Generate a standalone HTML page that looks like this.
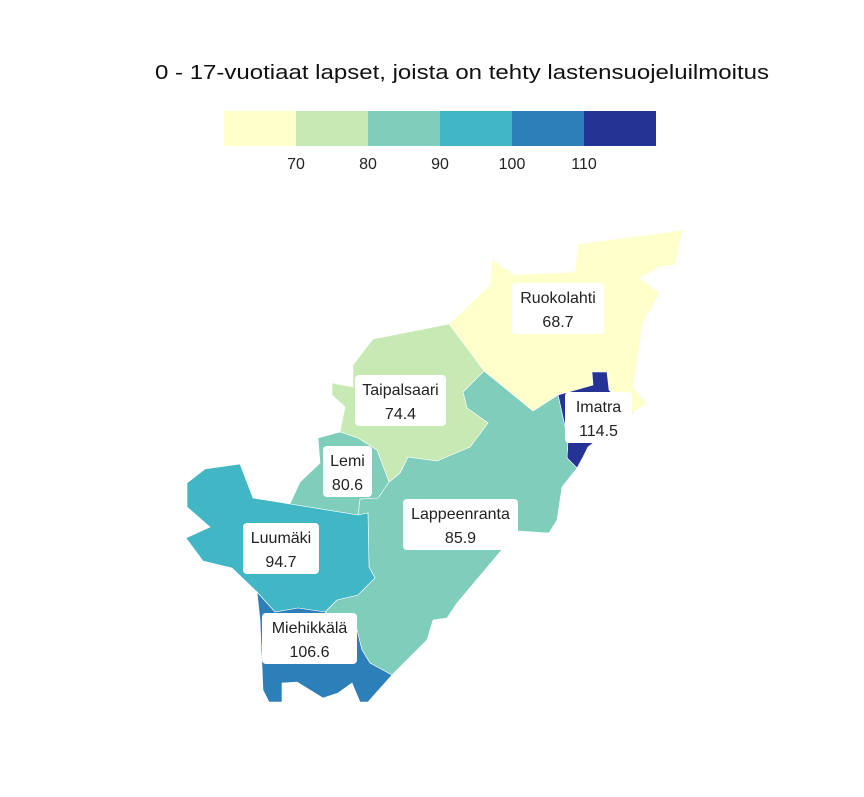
<!DOCTYPE html>
<html><head><meta charset="utf-8"><style>
body{margin:0;background:#fff;font-family:"Liberation Sans",sans-serif;}
svg text{font-family:"Liberation Sans",sans-serif;}
</style></head><body>
<svg width="864" height="792" viewBox="0 0 864 792">
<text x="462" y="79" text-anchor="middle" font-size="20" textLength="614" lengthAdjust="spacingAndGlyphs" fill="#111">0 - 17-vuotiaat lapset, joista on tehty lastensuojeluilmoitus</text>
<g id="legend"></g>
<g id="map"></g>
<g id="labels"></g>
</svg>
<script>
const regions=["Ruokolahti","Imatra","Lappeenranta","Taipalsaari","Lemi","Luumäki","Miehikkälä"];
const values=[68.7,114.5,85.9,74.4,80.6,94.7,106.6];
const binEdges=[60,70,80,90,100,110,120];
const binColors=["#ffffcc","#c7e9b4","#7fcdbb","#41b6c4","#2c7fb8","#253494"];
const tickLabels=[70,80,90,100,110];
const shapes={
"Ruokolahti":[[449,324],[490,285],[492,259],[515,275],[575,272],[578,244],[683,230],[675,265],[660,267],[640,278],[660,293],[643,323],[633,387],[647,403],[627,417],[607,390],[607,372],[592,372],[593,385],[558,395],[533,411],[484,371]],
"Imatra":[[592,372],[607,372],[609,390],[633,413],[627,417],[588,447],[583,457],[577,468],[567,458],[568,440],[558,395],[593,385]],
"Lappeenranta":[[484,371],[533,411],[558,395],[568,440],[567,458],[577,468],[562,487],[557,520],[549,533],[519,531],[500,552],[457,603],[447,618],[433,620],[427,640],[392,675],[370,663],[362,650],[357,630],[325,612],[337,600],[358,595],[375,578],[369,567],[368,513],[358,515],[360,499],[378,498],[389,482],[400,473],[408,457],[437,461],[470,447],[488,423],[467,408],[463,392]],
"Taipalsaari":[[449,324],[484,371],[463,392],[467,408],[488,423],[470,447],[437,461],[408,457],[400,473],[389,482],[377,450],[358,438],[340,432],[345,407],[332,395],[332,383],[353,387],[353,365],[373,339]],
"Lemi":[[340,432],[318,438],[320,463],[300,482],[290,504],[358,515],[360,499],[378,498],[389,482],[377,450],[358,438]],
"Luumäki":[[187,483],[205,469],[240,464],[253,498],[290,504],[358,515],[368,513],[369,567],[375,578],[358,595],[337,600],[325,612],[298,608],[275,612],[257,592],[232,568],[203,561],[186,538],[210,527],[187,507]],
"Miehikkälä":[[257,592],[275,612],[298,608],[325,612],[357,630],[362,650],[370,663],[392,675],[368,702],[360,702],[352,683],[338,693],[323,698],[297,682],[282,683],[282,702],[269,702],[263,690],[260,620]]
};
const boxes={"Ruokolahti":[512,283,92],"Imatra":[565,392,67],"Lappeenranta":[403,499,115],"Taipalsaari":[355,375,91],"Lemi":[323,446,49],"Luumäki":[243,523,76],"Miehikkälä":[262,613,95]};
const NS="http://www.w3.org/2000/svg";
const lx0=224,lw=432,ly=111,lh=35;
function xScale(v){return lx0+(v-binEdges[0])/(binEdges[binEdges.length-1]-binEdges[0])*lw;}
function colorOf(v){for(let i=0;i<binColors.length;i++){if(v<binEdges[i+1])return binColors[i];}return binColors[binColors.length-1];}
const lg=document.getElementById('legend');
binColors.forEach((c,i)=>{const r=document.createElementNS(NS,'rect');
r.setAttribute('x',xScale(binEdges[i]));r.setAttribute('y',ly);r.setAttribute('width',xScale(binEdges[i+1])-xScale(binEdges[i]));r.setAttribute('height',lh);r.setAttribute('fill',c);


lg.appendChild(r);});
tickLabels.forEach(t=>{const tx=document.createElementNS(NS,'text');
tx.setAttribute('x',xScale(t));tx.setAttribute('y',169);tx.setAttribute('text-anchor','middle');tx.setAttribute('font-size','16');tx.setAttribute('fill','#222');tx.textContent=t;


lg.appendChild(tx);});
const mp=document.getElementById('map'),lb=document.getElementById('labels');
regions.forEach((n,i)=>{const p=document.createElementNS(NS,'polygon');
p.setAttribute('points',shapes[n].map(q=>q.join(',')).join(' '));
p.setAttribute('fill',colorOf(values[i]));p.setAttribute('stroke','#fff');p.setAttribute('stroke-width','0.6');


mp.appendChild(p);
const b=boxes[n];const g=document.createElementNS(NS,'g');


const r=document.createElementNS(NS,'rect');r.setAttribute('x',b[0]);r.setAttribute('y',b[1]);r.setAttribute('width',b[2]);r.setAttribute('height',51);r.setAttribute('rx',4);r.setAttribute('fill','#fff');g.appendChild(r);
[n,values[i].toFixed(1)].forEach((s,k)=>{const t=document.createElementNS(NS,'text');t.setAttribute('x',b[0]+b[2]/2);t.setAttribute('y',b[1]+20+k*24);t.setAttribute('text-anchor','middle');t.setAttribute('font-size','16');t.setAttribute('fill','#222');t.textContent=s;g.appendChild(t);});
lb.appendChild(g);});
</script>
</body></html>
